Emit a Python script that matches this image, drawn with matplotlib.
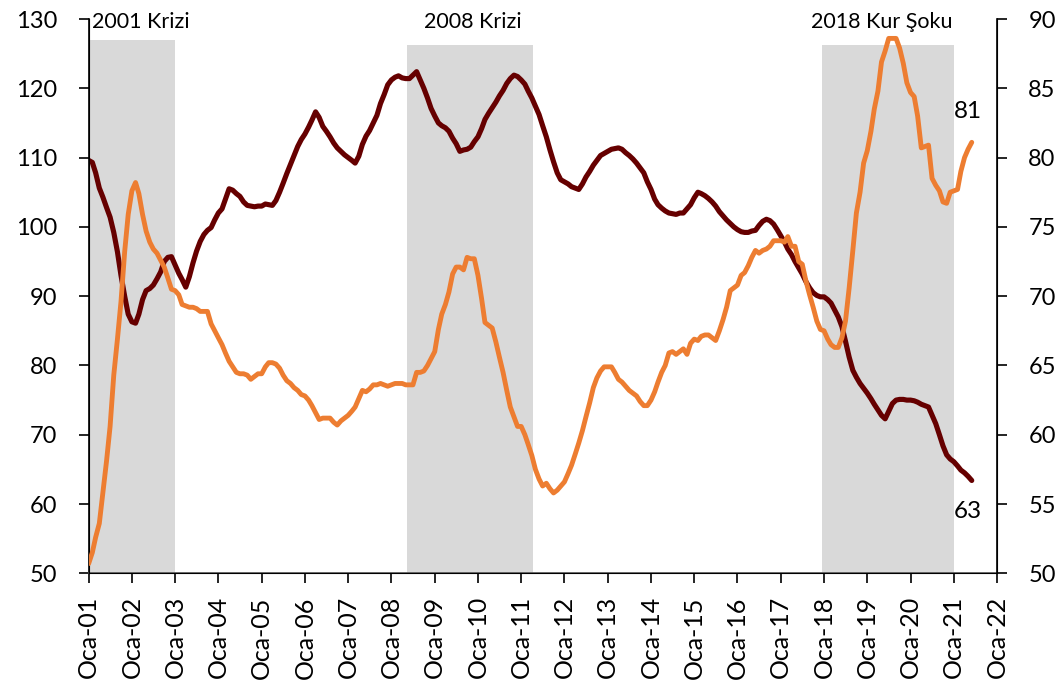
import pandas as pd
import numpy as np
import matplotlib
matplotlib.use("Agg")
import matplotlib.pyplot as plt

# monthly series, Jan 2001 - Jun 2021
dark_vals = [
    109.6, 109.3, 107.8, 105.6, 104.3, 102.8, 101.4, 99.2, 96.4, 93.0, 90.0, 87.4,   # 2001
    86.3, 86.1, 87.4, 89.5, 90.8, 91.1, 91.6, 92.5, 93.5, 95.0, 95.6, 95.7,          # 2002
    94.5, 93.3, 92.4, 91.3, 92.8, 94.8, 96.5, 97.9, 98.9, 99.5, 99.9, 101.0,         # 2003
    102.0, 102.6, 104.0, 105.5, 105.3, 104.8, 104.4, 103.6, 103.1, 103.0, 102.9, 103.0,  # 2004
    103.0, 103.3, 103.2, 103.1, 103.8, 105.0, 106.3, 107.7, 109.0, 110.3, 111.6, 112.6,  # 2005
    113.4, 114.4, 115.4, 116.6, 115.8, 114.5, 113.8, 113.0, 112.1, 111.4, 110.9, 110.4,  # 2006
    110.0, 109.6, 109.2, 110.2, 111.9, 113.1, 113.9, 115.0, 116.1, 117.8, 119.1, 120.5,  # 2007
    121.2, 121.6, 121.8, 121.5, 121.4, 121.4, 121.9, 122.4, 121.2, 120.0, 118.6, 117.1,  # 2008
    116.0, 115.0, 114.6, 114.3, 113.8, 112.8, 112.0, 110.9, 111.1, 111.2, 111.5, 112.3,  # 2009
    113.0, 114.2, 115.5, 116.4, 117.2, 118.0, 118.9, 119.7, 120.7, 121.4, 121.9, 121.7,  # 2010
    121.2, 120.6, 119.6, 118.6, 117.4, 116.2, 114.6, 113.0, 111.1, 109.4, 107.8, 106.8,  # 2011
    106.5, 106.2, 105.8, 105.6, 105.4, 106.2, 107.2, 108.0, 108.9, 109.6, 110.3, 110.6,  # 2012
    110.9, 111.2, 111.3, 111.4, 111.2, 110.7, 110.3, 109.8, 109.2, 108.5, 107.8, 106.5,  # 2013
    105.4, 104.0, 103.2, 102.7, 102.3, 102.0, 101.9, 101.8, 102.0, 102.0, 102.6, 103.2,  # 2014
    104.2, 105.0, 104.8, 104.5, 104.1, 103.6, 103.0, 102.2, 101.6, 101.0, 100.5, 100.0,  # 2015
    99.6, 99.3, 99.2, 99.2, 99.4, 99.5, 100.2, 100.8, 101.1, 100.9, 100.4, 99.6,         # 2016
    98.7, 97.8, 96.8, 96.0, 95.0, 94.1, 93.2, 92.1, 91.2, 90.5, 90.1, 89.9,              # 2017
    89.9, 89.5, 89.0, 88.0, 87.0, 85.6, 83.5, 81.2, 79.3, 78.3, 77.4, 76.7,              # 2018
    76.0, 75.2, 74.4, 73.6, 72.8, 72.3, 73.4, 74.5, 75.0, 75.1, 75.1, 75.0,              # 2019
    75.0, 74.9, 74.7, 74.4, 74.2, 74.0, 72.8, 71.6, 70.0, 68.4, 67.1, 66.5,              # 2020
    66.1, 65.5, 64.9, 64.5, 64.0, 63.4,                                                  # 2021
]

orange_vals = [
    50.7, 51.5, 52.6, 53.6, 55.8, 58.1, 60.6, 64.3, 66.9, 69.6, 73.2, 75.9,   # 2001
    77.6, 78.2, 77.4, 75.9, 74.7, 73.9, 73.4, 73.1, 72.6, 72.1, 71.3, 70.5,   # 2002
    70.4, 70.1, 69.4, 69.3, 69.2, 69.2, 69.1, 68.9, 68.9, 68.9, 68.0, 67.5,   # 2003
    67.0, 66.5, 65.9, 65.3, 64.9, 64.5, 64.4, 64.4, 64.3, 64.0, 64.2, 64.4,   # 2004
    64.4, 64.9, 65.2, 65.2, 65.1, 64.8, 64.3, 63.9, 63.7, 63.4, 63.2, 62.9,   # 2005
    62.8, 62.5, 62.1, 61.6, 61.1, 61.2, 61.2, 61.2, 60.9, 60.7, 61.0, 61.2,   # 2006
    61.4, 61.7, 62.0, 62.6, 63.2, 63.1, 63.3, 63.6, 63.6, 63.7, 63.6, 63.5,   # 2007
    63.6, 63.7, 63.7, 63.7, 63.6, 63.6, 63.6, 64.5, 64.5, 64.6, 65.0, 65.5,   # 2008
    66.0, 67.6, 68.7, 69.4, 70.3, 71.6, 72.1, 72.1, 71.9, 72.8, 72.7, 72.7,   # 2009
    71.5, 69.8, 68.1, 67.9, 67.7, 66.7, 65.6, 64.5, 63.2, 62.0, 61.3, 60.6,   # 2010
    60.6, 60.0, 59.3, 58.5, 57.5, 56.8, 56.3, 56.5, 56.1, 55.8, 56.0, 56.3,   # 2011
    56.6, 57.2, 57.8, 58.6, 59.4, 60.3, 61.3, 62.3, 63.4, 64.1, 64.6, 64.9,   # 2012
    64.9, 64.9, 64.5, 64.0, 63.8, 63.5, 63.2, 63.0, 62.8, 62.4, 62.1, 62.1,   # 2013
    62.5, 63.1, 63.8, 64.5, 65.0, 65.9, 66.0, 65.8, 66.0, 66.2, 65.8, 66.6,   # 2014
    66.9, 66.8, 67.1, 67.2, 67.2, 67.0, 66.8, 67.5, 68.3, 69.2, 70.4, 70.6,   # 2015
    70.8, 71.5, 71.7, 72.2, 72.8, 73.3, 73.1, 73.3, 73.4, 73.6, 74.0, 74.0,   # 2016
    74.0, 73.9, 74.3, 73.6, 73.6, 72.5, 72.3, 71.1, 70.1, 69.2, 68.2, 67.6,   # 2017
    67.5, 66.9, 66.5, 66.3, 66.3, 67.0, 68.2, 70.6, 73.3, 76.0, 77.5, 79.6,   # 2018
    80.5, 81.9, 83.5, 84.8, 86.9, 87.7, 88.6, 88.6, 88.6, 87.9, 86.8, 85.4,   # 2019
    84.7, 84.4, 83.0, 80.7, 80.8, 80.9, 78.5, 78.0, 77.6, 76.8, 76.7, 77.5,   # 2020
    77.6, 77.7, 79.0, 80.0, 80.6, 81.1,                                       # 2021
]

dates = pd.date_range("2001-01-01", periods=len(dark_vals), freq="MS")

# crisis periods (shaded)
crisis_names = ["2001 Krizi", "2008 Krizi", "2018 Kur Şoku"]
crisis_start = ["2000-12-16", "2008-05-16", "2017-12-16"]
crisis_end = ["2002-12-31", "2011-04-08", "2020-12-31"]
crisis_top = [126.9, 126.2, 126.2]
crisis_label_x = ["2001-02-01", "2009-11-20", "2019-05-01"]

dark_color = "#660000"
orange_color = "#ED7D31"
shade_color = "#D9D9D9"

plt.rcParams["font.family"] = ["Lato", "DejaVu Sans"]
plt.rcParams["font.size"] = 16

fig = plt.figure(figsize=(10.63, 6.91), dpi=100)
ax = fig.add_axes([0.0834, 0.1703, 0.8546, 0.8022])
ax2 = ax.twinx()

for s, e, top in zip(crisis_start, crisis_end, crisis_top):
    ax.fill_between([pd.Timestamp(s), pd.Timestamp(e)], 50, top, color=shade_color, lw=0, zorder=0)

ax.plot(dates, dark_vals, color=dark_color, lw=3.7, solid_capstyle="round", zorder=3)
ax2.plot(dates, orange_vals, color=orange_color, lw=3.5, solid_capstyle="round", zorder=3)

ax.set_ylim(50, 130)
ax.set_yticks(range(50, 131, 10))
ax2.set_ylim(50, 90)
ax2.set_yticks(range(50, 91, 5))
ax.set_xlim(pd.Timestamp("2001-01-01"), pd.Timestamp("2022-01-01"))

ticks = pd.date_range("2001-01-01", "2022-01-01", freq="YS")
ax.set_xticks(ticks)
ax.set_xticklabels(["Oca-" + d.strftime("%y") for d in ticks], rotation=90)

for a in (ax, ax2):
    a.spines["top"].set_visible(False)
    a.tick_params(direction="out", length=7.5, width=1.2, labelsize=17)
ax.spines["left"].set_linewidth(1.2)
ax2.spines["right"].set_linewidth(1.2)
ax.spines["bottom"].set_color("#555555")
ax.spines["bottom"].set_linewidth(1.2)
ax.tick_params(axis="x", pad=9, labelsize=18)
ax.tick_params(axis="y", pad=15)
ax2.tick_params(axis="y", pad=15)

# crisis labels
ax.text(pd.Timestamp(crisis_label_x[0]), 129.5, crisis_names[0], ha="left", va="center", fontsize=15.5)
ax.text(pd.Timestamp(crisis_label_x[1]), 129.5, crisis_names[1], ha="center", va="center", fontsize=15.5)
ax.text(pd.Timestamp(crisis_label_x[2]), 129.5, crisis_names[2], ha="center", va="center", fontsize=15.5)

# end values
ax2.annotate(f"{orange_vals[-1]:.0f}", (dates[-1], orange_vals[-1]), xytext=(-3, 22),
             textcoords="offset points", ha="center", va="center", fontsize=17.5)
ax.annotate(f"{dark_vals[-1]:.0f}", (dates[-1], dark_vals[-1]), xytext=(-3, -22),
            textcoords="offset points", ha="center", va="center", fontsize=17.5)

fig.savefig("out.png", dpi=100)
